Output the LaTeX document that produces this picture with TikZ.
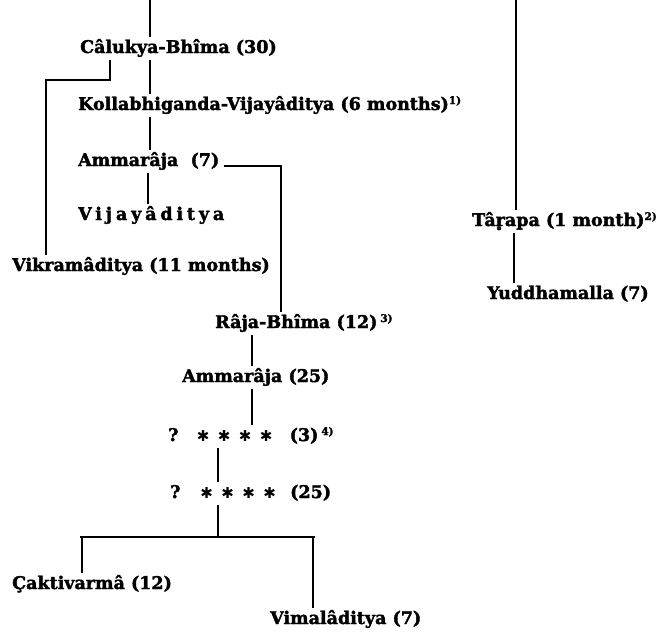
\documentclass[tikz,border=0pt]{standalone}
\usepackage{fontspec}
\setmainfont{DejaVu Serif}[BoldFeatures={FakeBold=2}]
\newfontfamily\symf{DejaVu Sans}
\newcommand\fnmark[1]{\raisebox{6pt}{\fontsize{10.5}{10.5}\selectfont #1}}
\newcommand\sstar{\makebox[21pt]{\raisebox{0pt}{\symf\fontsize{15}{15}\selectfont ✱}}}
\tikzset{
  nm/.style={anchor=base west, inner xsep=0pt, inner ysep=2pt, text height=14pt, text depth=5pt,
    font=\fontsize{17.5}{19}\selectfont\bfseries},
  link/.style={line width=1.6pt}
}
\begin{document}
\begin{tikzpicture}[x=1pt,y=-1pt]
\useasboundingbox (0,0) rectangle (660,633);
% text nodes
\node[nm] (cb) at (80,53) {Câlukya-Bhîma (30)};
\node[nm] (kv) at (78,110) {Kollabhiganda-Vijayâditya (6 months)\fnmark{1)}};
\node[nm] (a7) at (78,166) {Ammarâja\ \ (7)};
\node[nm] (vj) at (78,220) {\addfontfeature{LetterSpace=22}Vijayâditya};
\node[nm] (vk) at (12,271) {Vikramâditya (11 months)};
\node[nm] (rb) at (215,328) {Râja-Bhîma (12)\,\fnmark{3)}};
\node[nm] (a25) at (182,382) {Ammarâja (25)};
\node[nm] (q3) at (168,441) {\makebox[24.5pt][l]{?}\sstar\sstar\sstar\sstar\hspace{13pt}(3)\,\fnmark{4)}};
\node[nm] (q25) at (170,498) {\makebox[26pt][l]{?}\sstar\sstar\sstar\sstar\hspace{10pt}(25)};
\node[nm] (ck) at (12,589) {Çaktivarmâ (12)};
\node[nm] (vm) at (270,624) {Vimalâditya (7)};
\node[nm] (tr) at (472,226) {Târ̥apa (1 month)\fnmark{2)}};
\node[nm] (yd) at (487,299) {Yuddhamalla (7)};
% column coordinates
\coordinate (top1) at (150,0);
\coordinate (top2) at (516,0);
\coordinate (cA) at (150,0);
\coordinate (cB) at (148,0);
\coordinate (cL) at (110,0);
\coordinate (cLL) at (46,0);
\coordinate (cR) at (281,0);
\coordinate (cM) at (252,0);
\coordinate (cQ) at (218,0);
\coordinate (cT) at (514,0);
\coordinate (hL) at (0,80);
\coordinate (hR) at (0,537);
\coordinate (cS1) at (82,0);
\coordinate (cS2) at (313,0);
% connectors
\draw[link] (top1) -- (top1 |- cb.north);
\draw[link] (top2) -- (top2 |- tr.north);
\draw[link] (cA |- cb.south) -- (cA |- kv.north);
\draw[link] (cA |- kv.south) -- (cA |- a7.north);
\draw[link] (cB |- a7.south) -- (cB |- vj.north);
\draw[link] (cL |- cb.south) -- (cL |- hL) -- (cLL |- hL) -- (cLL |- vk.north);
\draw[link] ([xshift=4pt]a7.base east) -- (cR |- a7.base) -- (cR |- rb.north);
\draw[link] (cM |- rb.south) -- (cM |- a25.north);
\draw[link] (cM |- a25.south) -- (cM |- q3.north);
\draw[link] (cQ |- q3.south) -- (cQ |- q25.north);
\draw[link] (cQ |- q25.south) -- (cQ |- hR);
\draw[link] (80,537) coordinate (hl1) -- (315,537) coordinate (hl2);
\draw[link] (cS1 |- hR) -- (cS1 |- ck.north);
\draw[link] (cS2 |- hR) -- (cS2 |- vm.north);
\draw[link] (cT |- tr.south) -- (cT |- yd.north);
\end{tikzpicture}
\end{document}
